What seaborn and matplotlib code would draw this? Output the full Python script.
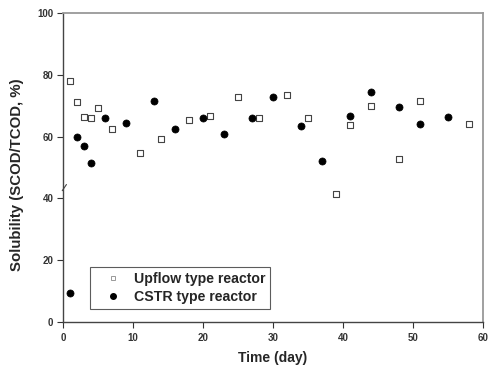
import matplotlib
matplotlib.use("Agg")
import matplotlib.pyplot as plt
import seaborn as sns
import pandas as pd
from matplotlib.lines import Line2D

# Data
upflow_day = [1, 2, 3, 4, 5, 7, 11, 14, 18, 21, 25, 28, 32, 35, 39, 41, 44, 48, 51, 58]
upflow_sol = [78.0, 71.2, 66.4, 65.9, 69.2, 62.5, 54.6, 59.1, 65.4, 66.8, 72.9, 65.9, 73.5, 65.9, 41.3, 63.8, 69.9, 52.8, 71.6, 64.0]
cstr_day = [1, 2, 3, 4, 6, 9, 13, 16, 20, 23, 27, 30, 34, 37, 41, 44, 48, 51, 55]
cstr_sol = [9.5, 60.0, 57.1, 51.4, 65.9, 64.3, 71.5, 62.5, 66.1, 60.8, 66.1, 72.7, 63.5, 52.1, 66.8, 74.3, 69.7, 64.0, 66.2]
series_names = ["Upflow type reactor", "CSTR type reactor"]
x_ticks = [0, 10, 20, 30, 40, 50, 60]
y_ticks = [0, 20, 40, 60, 80, 100]

df_up = pd.DataFrame({"day": upflow_day, "sol": upflow_sol})
df_cs = pd.DataFrame({"day": cstr_day, "sol": cstr_sol})

sns.set_style("white")
plt.rcParams["font.family"] = ["Liberation Sans", "DejaVu Sans"]

fig = plt.figure(figsize=(4.89, 3.76), dpi=100)
ax = fig.add_axes([0.129, 0.1436, 0.859, 0.8218])

sns.scatterplot(data=df_up, x="day", y="sol", marker="s", s=20,
                facecolor="white", edgecolor="#444444", linewidth=0.8, ax=ax)
sns.scatterplot(data=df_cs, x="day", y="sol", marker="o", s=26,
                color="black", edgecolor="black", linewidth=0.5, ax=ax)

ax.set_xlim(0, 60)
ax.set_ylim(0, 100)
ax.set_xticks(x_ticks)
ax.set_yticks(y_ticks)
ax.tick_params(axis="both", direction="out", length=4, width=0.8, labelsize=7,
               colors="#333333", bottom=True, left=True)
ax.tick_params(axis="x", pad=4)
ax.tick_params(axis="y", pad=3)
for lab in ax.get_xticklabels() + ax.get_yticklabels():
    lab.set_fontweight("bold")

ax.set_xlabel("Time (day)", fontsize=10, fontweight="bold")
ax.set_ylabel("Solubility (SCOD/TCOD, %)", fontsize=10.8, fontweight="bold")
ax.xaxis.set_label_coords(0.5, -0.095)
ax.yaxis.set_label_coords(-0.092, 0.476)

for side in ["left", "bottom"]:
    ax.spines[side].set_color("#444444")
    ax.spines[side].set_linewidth(1.0)
for side in ["top", "right"]:
    ax.spines[side].set_color("#999999")
    ax.spines[side].set_linewidth(1.3)

# axis break mark on the left spine
ax.plot([-0.002, 0.008], [0.425, 0.445], transform=ax.transAxes,
        color="#444444", lw=0.8, clip_on=False)

# Legend
handles = [
    Line2D([], [], marker="s", linestyle="none", markerfacecolor="white",
           markeredgecolor="#999999", markersize=3.5, markeredgewidth=0.7),
    Line2D([], [], marker="o", linestyle="none", markerfacecolor="black",
           markeredgecolor="black", markersize=4),
]
leg = ax.legend(handles, series_names, loc="lower left",
                bbox_to_anchor=(0.064, 0.042), frameon=True, fancybox=False,
                prop={"size": 10.2, "weight": "bold"}, handletextpad=0.25,
                handlelength=2.5, borderpad=0.35, labelspacing=0.3, borderaxespad=0)
leg.get_frame().set_edgecolor("#333333")
leg.get_frame().set_linewidth(0.8)

fig.savefig("out.png", dpi=100)
